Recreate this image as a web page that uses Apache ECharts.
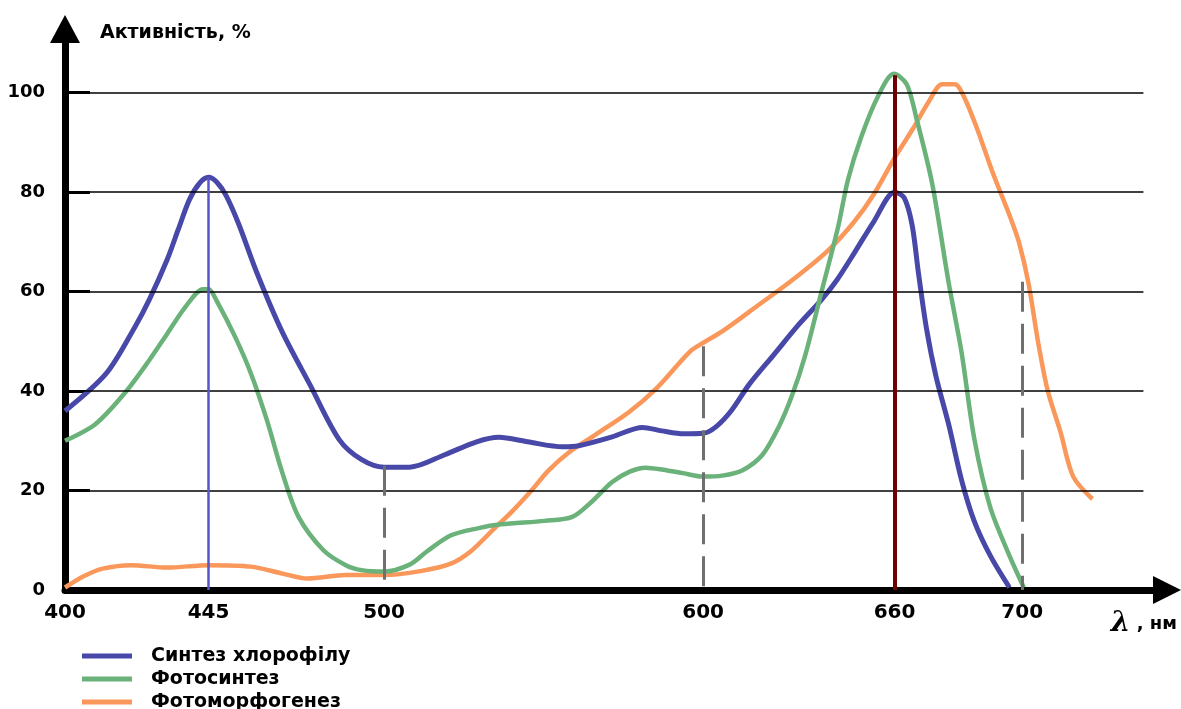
<!DOCTYPE html>
<html>
<head>
<meta charset="utf-8">
<script src="https://cdn.jsdelivr.net/npm/echarts@6/dist/echarts.min.js"></script>
<style>html,body{margin:0;padding:0;background:#fff;}#chart{width:1181px;height:709px;}</style>
</head>
<body>
<div id="chart"></div>
<script>
// ---- data (wavelength in nm, activity in %) ----
const xTickLabels = [400, 445, 500, 600, 660, 700];
const yTickLabels = [0, 20, 40, 60, 80, 100];
const gridLevels = [20, 40, 60, 80, 100];

const chlNm  = [400, 413, 422, 426.5, 432, 435.5, 439, 442.3, 445, 447.6, 450.5, 454.5, 460, 468, 477, 486, 493, 500, 508, 519, 529, 536, 545, 556, 561, 571.5, 581, 587, 594, 600, 604, 609, 614.5, 622, 630, 637, 642, 647.5, 653.5, 660, 663, 665.5, 667.5, 670, 673, 677, 681, 685, 690, 696];
const chlVal = [36, 43.6, 53, 58.5, 66.4, 72.5, 78.5, 81.9, 83, 82, 79.3, 73.5, 64, 52, 41, 30.2, 26.2, 24.7, 24.7, 27.2, 29.8, 30.7, 29.8, 28.8, 29.0, 30.8, 32.7, 32, 31.4, 31.5, 32.8, 36.2, 41.4, 47.2, 53.4, 58.3, 62.4, 67.9, 74.1, 80, 78.9, 73.4, 63.7, 52.6, 42.9, 33.2, 22.1, 13.8, 6.9, 0.5];

const photoNm  = [400, 409.6, 418.6, 426.4, 432, 437.7, 443.3, 445, 447.5, 453.4, 458.3, 463.3, 468.2, 473.2, 481, 488, 493, 500, 508, 513.5, 521, 529.3, 536.7, 550.4, 559, 565, 571.5, 577, 582, 587.4, 593.7, 600, 606, 612.4, 618.6, 623.7, 627.8, 632, 637, 642.3, 645.4, 649.5, 654.6, 659.8, 663.8, 666.8, 671.8, 676.9, 681, 685, 690, 696, 700.5];
const photoVal = [30, 33.4, 39.5, 46.2, 51.5, 56.9, 60.5, 60.5, 58.2, 50.8, 43.5, 34.1, 23.4, 14.7, 8.0, 5.0, 4.0, 3.7, 5.1, 7.8, 11.0, 12.4, 13.2, 13.9, 14.7, 17.7, 21.7, 23.8, 24.6, 24.2, 23.5, 22.8, 23.0, 24.1, 27.2, 32.8, 39.0, 47.2, 59.7, 73.0, 82.5, 91.0, 99.0, 103.8, 101.7, 95, 81.7, 62, 47.8, 30.4, 16.6, 6.9, 0.5];

const morphNm  = [400, 406, 411.8, 420.8, 432, 445, 458.3, 468.2, 476, 488, 500, 511.4, 520.9, 527.2, 534.6, 540, 546.2, 551.5, 557.8, 566.2, 576.8, 585.3, 595.8, 600, 606.2, 616.5, 628.9, 639.2, 647.4, 653.6, 660, 665.8, 670.8, 674.9, 678.9, 681.9, 685.9, 690.9, 696, 699, 702, 705, 708, 712, 716, 722];
const morphVal = [0.5, 2.8, 4.3, 5.0, 4.5, 5.0, 4.7, 3.3, 2.3, 3.0, 3.0, 3.8, 5.3, 7.8, 12.4, 15.7, 20.0, 24.0, 27.6, 31.2, 35.8, 40.5, 47.9, 49.7, 52.1, 56.9, 62.8, 68.3, 74.1, 79.7, 86.9, 92.8, 98.3, 101.7, 101.7, 99.0, 92.7, 83.7, 75.4, 69.9, 61.6, 49.8, 40.1, 31.8, 22.8, 18.3];

// reference lines: [wavelength, top value]
const blueMarkerLine = [445, 83];
const redMarkerLine = [660, 103.5];
const dashedLines = [[500, 25], [600, 49], [700, 62]];

const seriesNames = ['Синтез хлорофілу', 'Фотосинтез', 'Фотоморфогенез'];
const colors = ['#4848A8', '#6AB27A', '#FA975A'];

const zip = (xs, ys) => xs.map((x, i) => [x, ys[i]]);
const FONT = "'DejaVu Sans', sans-serif";

const chart = echarts.init(document.getElementById('chart'), null, {renderer: 'canvas'});

const gridMarks = gridLevels.map(v => [{coord: [400, v]}, {coord: [738, v]}]);
const guideMarks = [
  [{coord: [blueMarkerLine[0], 0], lineStyle: {color: '#5656C8', width: 2.5, type: 'solid'}}, {coord: [blueMarkerLine[0], blueMarkerLine[1]]}],
  [{coord: [redMarkerLine[0], 0], lineStyle: {color: '#6E0000', width: 4, type: 'solid'}}, {coord: [redMarkerLine[0], redMarkerLine[1]]}]
].concat(dashedLines.map(d => [
  {coord: [d[0], d[1]], lineStyle: {color: '#6F6F6F', width: 3, type: [30, 12]}},
  {coord: [d[0], 0]}
]));

const legendTops = [641, 664, 687];
const legends = seriesNames.map((n, i) => ({
  data: [n],
  orient: 'vertical',
  left: 77,
  top: legendTops[i],
  icon: 'rect',
  itemWidth: 50,
  itemHeight: 5,
  selectedMode: false,
  textStyle: {fontFamily: FONT, fontWeight: 'bold', fontSize: 19, color: '#000', lineHeight: 20, padding: [0, 0, 0, 14]}
}));

const option = {
  animation: false,
  backgroundColor: '#ffffff',
  grid: {left: 65, right: 28, top: 43, bottom: 119, containLabel: false, outerBoundsMode: 'none'},
  legend: legends,
  xAxis: {
    type: 'value',
    min: 400,
    max: 741,
    splitLine: {show: false},
    axisTick: {show: false},
    axisLine: {show: true, onZero: false, lineStyle: {color: '#000', width: 7},
      symbol: ['none', 'triangle'], symbolSize: [28, 28], symbolOffset: [0, 14]},
    axisLabel: {customValues: xTickLabels, fontFamily: FONT, fontWeight: 'bold', fontSize: 20, color: '#000', margin: 13},
    name: '{l|λ}{t| , нм}',
    nameLocation: 'end',
    nameGap: 24,
    nameTextStyle: {
      align: 'right', verticalAlign: 'top', padding: [20, 0, 0, 0],
      rich: {
        l: {fontFamily: "'DejaVu Serif', serif", fontStyle: 'italic', fontWeight: 'bold', fontSize: 28, color: '#000'},
        t: {fontFamily: FONT, fontWeight: 'bold', fontSize: 18, color: '#000'}
      }
    }
  },
  yAxis: {
    type: 'value',
    min: 0,
    max: 110,
    splitLine: {show: false},
    axisLine: {show: true, onZero: false, lineStyle: {color: '#000', width: 7},
      symbol: ['none', 'triangle'], symbolSize: [30, 28], symbolOffset: [0, 14]},
    axisTick: {show: true, inside: true, length: 25, customValues: yTickLabels, lineStyle: {color: '#000', width: 3}},
    axisLabel: {customValues: yTickLabels, fontFamily: FONT, fontWeight: 'bold', fontSize: 18, color: '#000', margin: 20},
    name: 'Активність, %',
    nameLocation: 'end',
    nameGap: 10,
    nameTextStyle: {fontFamily: FONT, fontWeight: 'bold', fontSize: 19, color: '#000', align: 'left', verticalAlign: 'middle', padding: [2, 0, 0, 35]}
  },
  series: [
    {
      name: '__grid', type: 'line', z: 1, data: [], silent: true,
      markLine: {silent: true, symbol: ['none', 'none'], label: {show: false}, emphasis: {disabled: true},
        lineStyle: {color: '#000', width: 1.6, type: 'solid'}, data: gridMarks}
    },
    {
      name: seriesNames[0], type: 'line', z: 3, data: zip(chlNm, chlVal), showSymbol: false, smooth: 0.3,
      color: colors[0], lineStyle: {color: colors[0], width: 5}
    },
    {
      name: seriesNames[1], type: 'line', z: 3, data: zip(photoNm, photoVal), showSymbol: false, smooth: 0.3,
      color: colors[1], lineStyle: {color: colors[1], width: 4.5}
    },
    {
      name: seriesNames[2], type: 'line', z: 2, data: zip(morphNm, morphVal), showSymbol: false, smooth: 0.3,
      color: colors[2], lineStyle: {color: colors[2], width: 4.5}
    },
    {
      name: '__guides', type: 'line', z: 4, data: [], silent: true,
      markLine: {silent: true, symbol: ['none', 'none'], label: {show: false}, emphasis: {disabled: true}, data: guideMarks}
    }
  ]
};
chart.setOption(option);
</script>
</body>
</html>
